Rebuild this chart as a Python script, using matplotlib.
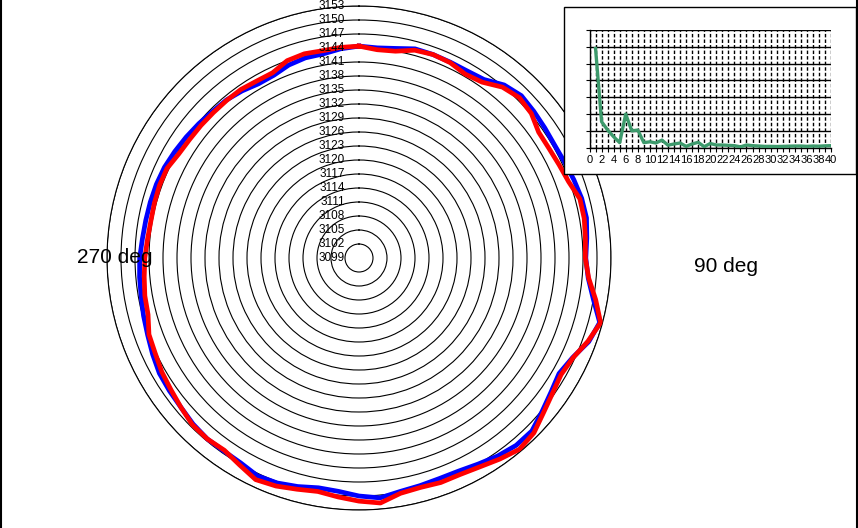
import numpy as np
import matplotlib
matplotlib.use("Agg")
import matplotlib.pyplot as plt
from matplotlib.patches import Rectangle
from matplotlib.lines import Line2D

plt.rcParams['font.family'] = ['Liberation Sans', 'DejaVu Sans']

# roundness profile, one value every 5 degrees (clockwise from top)
angles_deg = list(range(0, 360, 5))
blue_r = [3144.4, 3144.2, 3144.6, 3145.4, 3145.4, 3145.3, 3145.3, 3145.7,
          3147.4, 3148.2, 3147.9, 3147.6, 3147.4, 3147.6, 3148.0, 3148.4,
          3148.5, 3148.0, 3147.6, 3148.3, 3150.0, 3152.4, 3151.4, 3149.5,
          3148.5, 3149.2, 3150.2, 3151.4, 3151.4, 3150.8, 3150.0, 3149.4,
          3149.3, 3149.5, 3149.8, 3150.6, 3150.0, 3149.2, 3149.0, 3149.7,
          3150.3, 3150.5, 3149.7, 3149.5, 3149.6, 3149.3, 3148.8, 3148.6,
          3148.4, 3147.8, 3147.2, 3146.8, 3146.4, 3146.2, 3146.0, 3145.6,
          3145.4, 3145.3, 3145.2, 3145.0, 3144.6, 3144.2, 3143.8, 3143.4,
          3143.2, 3142.7, 3142.1, 3142.2, 3143.0, 3143.4, 3143.4, 3144.0]
red_r = [3144.4, 3143.8, 3144.0, 3145.1, 3145.4, 3145.2, 3144.5, 3145.0,
         3146.8, 3147.6, 3147.2, 3146.0, 3146.0, 3146.3, 3146.8, 3148.0,
         3148.0, 3147.7, 3147.5, 3148.4, 3150.5, 3152.6, 3151.2, 3149.6,
         3149.0, 3149.6, 3150.6, 3152.0, 3152.5, 3151.6, 3150.7, 3150.2,
         3150.2, 3149.9, 3150.2, 3151.7, 3151.1, 3150.4, 3149.8, 3150.3,
         3151.0, 3151.4, 3150.2, 3149.3, 3149.6, 3149.5, 3148.8, 3148.2,
         3147.8, 3147.2, 3146.9, 3145.8, 3145.6, 3145.2, 3144.9, 3144.5,
         3144.3, 3144.4, 3144.5, 3144.4, 3143.6, 3143.3, 3143.2, 3143.1,
         3143.1, 3143.1, 3142.8, 3142.8, 3144.0, 3144.3, 3144.1, 3144.3]

ring_values = list(range(3099, 3154, 3))

# harmonic spectrum for the inset
harmonic = list(range(1, 41))
amplitude = [5.9, 1.55, 1.05, 0.65, 0.3, 2.0, 1.0, 1.05, 0.3, 0.35,
             0.28, 0.45, 0.15, 0.22, 0.28, 0.08, 0.22, 0.32, 0.06, 0.25,
             0.16, 0.16, 0.14, 0.12, 0.05, 0.16, 0.12, 0.1, 0.08, 0.08,
             0.07, 0.08, 0.09, 0.1, 0.1, 0.08, 0.1, 0.09, 0.11, 0.12]

W, H = 858, 528
fig = plt.figure(figsize=(W / 100, H / 100), dpi=100)

# main polar chart
ax = fig.add_axes([107 / W, 18 / H, 504 / W, 504 / H], projection='polar')
ax.set_theta_zero_location('N')
ax.set_theta_direction(-1)

theta = np.deg2rad(angles_deg + [angles_deg[0]])
ax.plot(theta, blue_r + [blue_r[0]], color='#0000ff', lw=3.4, zorder=3)
ax.plot(theta, red_r + [red_r[0]], color='#ff0000', lw=3.4, zorder=4)

ax.set_ylim(ring_values[0], ring_values[-1])
ax.set_yticks(ring_values[1:])
ax.set_yticklabels([])
ax.tick_params(axis='y', length=0)
ax.set_xticks([])
ax.xaxis.grid(False)
ax.yaxis.grid(True, color='black', lw=0.8)
ax.spines['polar'].set_color('black')
ax.spines['polar'].set_linewidth(0.8)

for v in ring_values:
    ax.annotate(str(v), xy=(0, v), xytext=(-10, 0), textcoords='offset points',
                ha='right', va='center', fontsize=8.5, annotation_clip=False,
                zorder=5)

fig.text(77 / W, 1 - 263 / H, '270 deg', fontsize=15, ha='left', va='baseline')
fig.text(694 / W, 1 - 272.5 / H, '90 deg', fontsize=15, ha='left', va='baseline')

# inset box and spectrum
box = Rectangle((564 / W, 1 - 174 / H), 292 / W, 167 / H,
                transform=fig.transFigure, facecolor='white',
                edgecolor='black', lw=1, zorder=5)
fig.add_artist(box)

ins = fig.add_axes([589.5 / W, 1 - 147.7 / H, 241.5 / W, 117.7 / H], zorder=6)
ins.plot(harmonic, amplitude, color='#3d9a6c', lw=2.4, zorder=3)
ins.set_xlim(0, 40)
ins.set_ylim(0, 7)
ins.set_xticks(range(0, 41, 2))
ins.set_xticks(range(1, 41, 2), minor=True)
ins.set_yticks(range(0, 8))
ins.set_yticklabels([])
ins.tick_params(axis='x', which='both', length=3, width=0.8, labelsize=8, pad=2)
ins.tick_params(axis='y', length=3, width=0.8)
ins.xaxis.grid(True, which='both', color='black', lw=1.0, linestyle=(0, (2.5, 1.5)))
ins.yaxis.grid(True, color='black', lw=1.0)
ins.spines['top'].set_visible(False)
ins.spines['right'].set_visible(False)
ins.spines['left'].set_linewidth(1.0)
ins.spines['bottom'].set_linewidth(1.0)
ins.set_axisbelow(True)

# outer frame lines left and right
fig.add_artist(Line2D([0.5 / W, 0.5 / W], [0, 1], transform=fig.transFigure,
                      color='black', lw=1.5))
fig.add_artist(Line2D([856.5 / W, 856.5 / W], [0, 1], transform=fig.transFigure,
                      color='black', lw=1.5))

fig.savefig('out.png', dpi=100)
